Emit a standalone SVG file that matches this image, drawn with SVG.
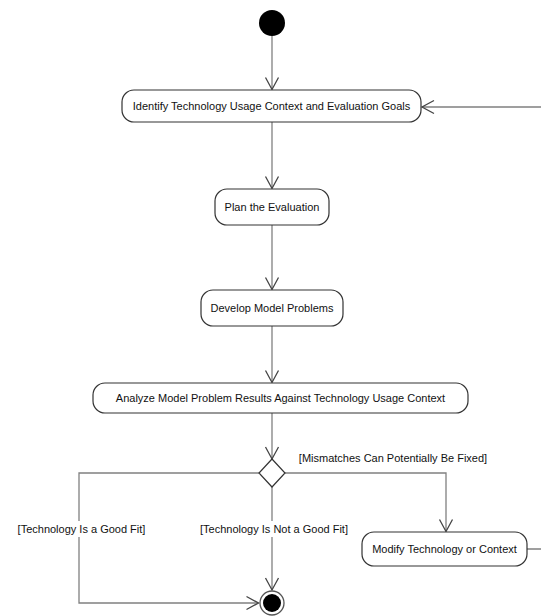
<svg xmlns="http://www.w3.org/2000/svg" width="541" height="616" viewBox="0 0 541 616">
<style>
.box{fill:#fff;stroke:#333;stroke-width:1.2}
.lbl{font-family:"Liberation Sans",Arial,sans-serif;font-size:11px;fill:#111}
.c{text-anchor:middle;dominant-baseline:central}
.ln{fill:none;stroke:#808080;stroke-width:1.3}
</style>
<defs>
<marker id="arr" markerUnits="userSpaceOnUse" markerWidth="20" markerHeight="20" viewBox="-14 -10 16 20" refX="0" refY="0" orient="auto">
<path d="M-12,-6.5 L0,0 L-12,6.5" fill="none" stroke="#444" stroke-width="1.3"/>
</marker>
</defs>
<g id="connectors">
<path class="ln" d="M272,36 V89.5" marker-end="url(#arr)"/>
<path class="ln" d="M272,122 V188.5" marker-end="url(#arr)"/>
<path class="ln" d="M272,225 V289.5" marker-end="url(#arr)"/>
<path class="ln" d="M272,326 V382.5" marker-end="url(#arr)"/>
<path class="ln" d="M272,413 V459" marker-end="url(#arr)"/>
<path class="ln" d="M259,473 H79 V521"/>
<path class="ln" d="M79,537 V603 H258.5" marker-end="url(#arr)"/>
<path class="ln" d="M272,487 V521"/>
<path class="ln" d="M272,537 V590" marker-end="url(#arr)"/>
<path class="ln" d="M285,473 H446 V531.5" marker-end="url(#arr)"/>
<path class="ln" d="M527,549 H550 V107 H422" marker-end="url(#arr)"/>
</g>
<g id="start"><circle cx="272" cy="23" r="13" fill="#000"/></g>
<g id="identify"><rect class="box" x="122" y="90" width="299" height="32" rx="12"/><text class="lbl c" x="271.5" y="106">Identify Technology Usage Context and Evaluation Goals</text></g>
<g id="plan"><rect class="box" x="215" y="189" width="114" height="36" rx="12"/><text class="lbl c" x="272" y="207">Plan the Evaluation</text></g>
<g id="develop"><rect class="box" x="201" y="290" width="142" height="36" rx="12"/><text class="lbl c" x="272" y="308">Develop Model Problems</text></g>
<g id="analyze"><rect class="box" x="93" y="383" width="375" height="30" rx="12"/><text class="lbl c" x="280.5" y="398">Analyze Model Problem Results Against Technology Usage Context</text></g>
<g id="decision"><path d="M272,459 L285,473 L272,487 L259,473 Z" fill="#fff" stroke="#333" stroke-width="1.2"/></g>
<g id="modify"><rect class="box" x="362" y="532" width="165" height="34" rx="12"/><text class="lbl c" x="444.5" y="549">Modify Technology or Context</text></g>
<g id="end"><circle cx="272" cy="603" r="12" fill="#fff" stroke="#555" stroke-width="1.3"/><circle cx="272" cy="603" r="9" fill="#000"/></g>
<g id="labels">
<text class="lbl c" x="393" y="458">[Mismatches Can Potentially Be Fixed]</text>
<text class="lbl c" x="81.5" y="529">[Technology Is a Good Fit]</text>
<text class="lbl c" x="274" y="529">[Technology Is Not a Good Fit]</text>
</g>
</svg>
